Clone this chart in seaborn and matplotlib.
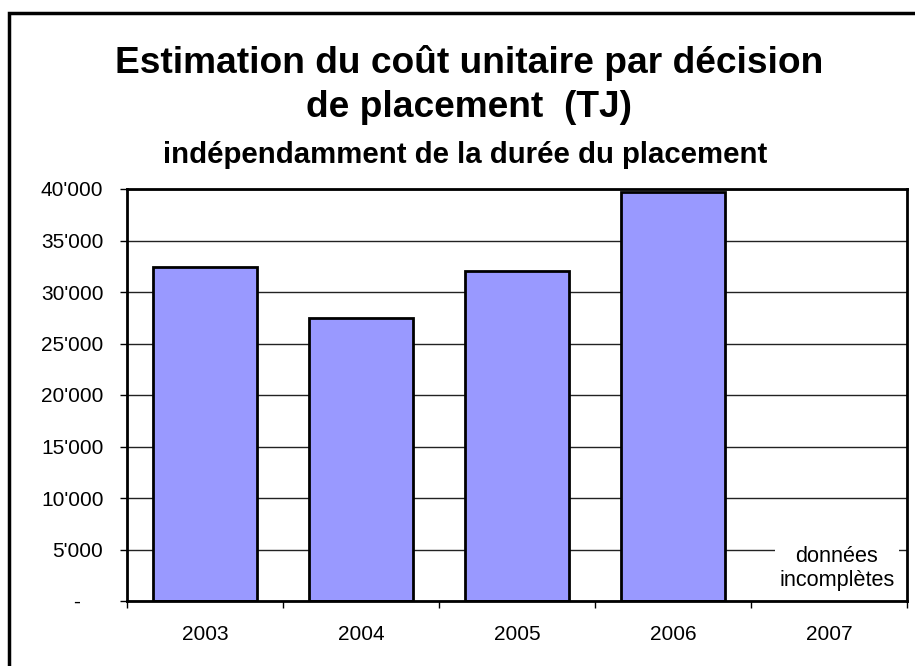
import numpy as np
import pandas as pd
import seaborn as sns
import matplotlib.pyplot as plt
from matplotlib.ticker import FuncFormatter, FixedLocator
from matplotlib.patches import Rectangle

# données
annees = ["2003", "2004", "2005", "2006", "2007"]
cout_unitaire = [32400, 27500, 32000, 39700, np.nan]
graduations = [0, 5000, 10000, 15000, 20000, 25000, 30000, 35000, 40000]

titre = "Estimation du coût unitaire par décision\nde placement  (TJ)"
sous_titre = "indépendamment de la durée du placement"
note_2007 = "données\nincomplètes"

sns.set_theme(style="white")
plt.rcParams["font.family"] = ["Liberation Sans", "DejaVu Sans"]
plt.rcParams["text.color"] = "black"

df = pd.DataFrame({"annee": annees, "cout": cout_unitaire})

fig = plt.figure(figsize=(9.15, 6.66), dpi=100)
ax = fig.add_axes([127 / 915, 1 - 601 / 666, 780 / 915, 412 / 666])

sns.barplot(data=df, x="annee", y="cout", order=annees, color="#9999FF",
            saturation=1, edgecolor="black", linewidth=2, width=0.67, ax=ax)

ax.set_ylim(0, 40000)
ax.set_xlim(-0.5, 4.5)
ax.yaxis.set_major_locator(FixedLocator(graduations))


def format_milliers(v, pos):
    if v == 0:
        return "-    "
    return f"{int(v):,}".replace(",", "'")


ax.yaxis.set_major_formatter(FuncFormatter(format_milliers))
ax.grid(axis="y", color="#222222", linewidth=1)
ax.set_axisbelow(True)

# graduations de l'axe x aux limites des catégories
ax.set_xticks(np.arange(-0.5, 5, 1), minor=True)
ax.tick_params(axis="x", which="major", length=0, pad=17, labelsize=15,
               colors="black")
ax.tick_params(axis="x", which="minor", bottom=True, length=5, width=1,
               color="black")
ax.tick_params(axis="y", left=True, length=5, width=1, color="black", pad=12,
               labelsize=15, colors="black")

for s in ax.spines.values():
    s.set_visible(True)
    s.set_color("black")
    s.set_linewidth(2)

ax.set_xlabel("")
ax.set_ylabel("")

ax.text(4.05, 3150, note_2007, ha="center", va="center", fontsize=15.6,
        linespacing=1.15, bbox=dict(facecolor="white", edgecolor="none", pad=3))

fig.text(0.513, 1 - 85 / 666, titre, ha="center", va="center", fontsize=26.7,
         fontweight="bold", linespacing=1.34)
fig.text(0.508, 1 - 155 / 666, sous_titre, ha="center", va="center",
         fontsize=21.2, fontweight="bold")

# cadre extérieur (coupé à droite et en bas)
fig.add_artist(Rectangle((9 / 915, -0.2), 1.2, 1.2 - 13 / 666,
                         transform=fig.transFigure, fill=False,
                         edgecolor="black", linewidth=2.5))

fig.savefig("out.png", dpi=100, facecolor="white")
